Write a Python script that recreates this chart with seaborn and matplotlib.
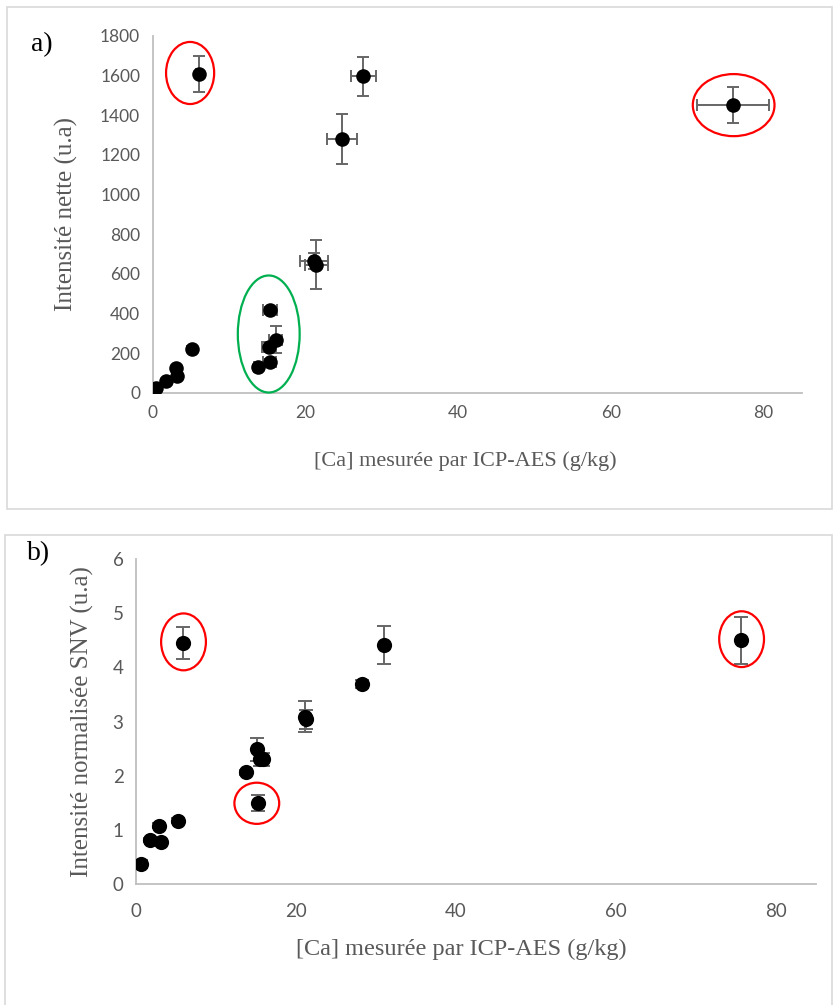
import matplotlib
matplotlib.use("Agg")
import matplotlib.pyplot as plt
from matplotlib.patches import Ellipse, Rectangle
import seaborn as sns
import pandas as pd

# ---------------- data ----------------
# panel a : net intensity vs [Ca]
ca_a = [0.4, 1.7, 3.0, 3.2, 5.2, 6.0, 13.8, 15.2, 15.3, 15.4, 16.1, 21.1, 21.4, 24.8, 27.6, 76.0]
int_a = [24, 61, 123, 82, 221, 1608, 128, 229, 153, 415, 266, 665, 645, 1280, 1595, 1451]
ca_err_a = [0.2, 0.2, 0.2, 0.2, 0.2, 0.3, 0.5, 0.9, 0.9, 0.9, 0.9, 1.8, 1.5, 2.0, 1.6, 4.7]
int_err_a = [5, 8, 10, 10, 15, 90, 10, 25, 15, 18, 68, 40, 124, 126, 99, 91]

# panel b : SNV-normalised intensity vs [Ca]
ca_b = [0.6, 1.75, 3.1, 2.9, 5.2, 5.9, 13.7, 15.2, 15.1, 15.5, 15.9, 21.1, 21.3, 28.2, 31.0, 75.6]
int_b = [0.37, 0.81, 0.78, 1.08, 1.17, 4.45, 2.06, 1.49, 2.49, 2.30, 2.30, 3.09, 3.04, 3.69, 4.41, 4.50]
int_err_b = [0.08, 0.04, 0.04, 0.04, 0.04, 0.29, 0.04, 0.15, 0.21, 0.12, 0.12, 0.29, 0.18, 0.07, 0.35, 0.43]

xticks = [0, 20, 40, 60, 80]
yticks_a = [0, 200, 400, 600, 800, 1000, 1200, 1400, 1600, 1800]
yticks_b = [0, 1, 2, 3, 4, 5, 6]

xlabel = "[Ca] mesurée par ICP-AES (g/kg)"
ylabel_a = "Intensité nette (u.a)"
ylabel_b = "Intensité normalisée SNV (u.a)"

# annotation ellipses (centre x, centre y, width, height, colour)
ell_a = [(4.9, 1612, 6.3, 313, "#FF0000"),
         (76.1, 1450, 10.7, 313, "#FF0000"),
         (15.2, 296, 8.1, 590, "#00B050")]
ell_b = [(5.94, 4.47, 5.6, 1.05, "#FF0000"),
         (75.7, 4.52, 5.6, 1.03, "#FF0000"),
         (15.1, 1.49, 5.6, 0.76, "#FF0000")]

df_a = pd.DataFrame({"x": ca_a, "y": int_a})
df_b = pd.DataFrame({"x": ca_b, "y": int_b})

# ---------------- style ----------------
sns.set_theme(style="white")
plt.rcParams["font.family"] = ["Lato", "DejaVu Sans"]
GRAY = "#595959"
AXC = "#BFBFBF"
SERIF = ["Liberation Serif", "DejaVu Serif"]

W, H = 833, 1005
fig = plt.figure(figsize=(W / 100, H / 100), dpi=100)

# panel frames
fig.patches.append(Rectangle((7 / W, 1 - 509 / H), (W - 8) / W, (509 - 7) / H,
                             transform=fig.transFigure, fill=False,
                             edgecolor="#D9D9D9", linewidth=1.2))
fig.patches.append(Rectangle((5 / W, -0.01), (W - 6) / W, 1 - 535 / H + 0.01,
                             transform=fig.transFigure, fill=False,
                             edgecolor="#D9D9D9", linewidth=1.2))


def style_axes(ax, yticks, xmax, fs_tick, xpad):
    ax.set_xlim(0, xmax)
    ax.set_xticks(xticks)
    ax.set_yticks(yticks)
    ax.set_ylim(yticks[0], yticks[-1])
    for s in ["top", "right"]:
        ax.spines[s].set_visible(False)
    for s in ["left", "bottom"]:
        ax.spines[s].set_color(AXC)
        ax.spines[s].set_linewidth(1.3)
    ax.tick_params(axis="y", direction="out", length=5, width=1.2, color=AXC,
                   labelcolor=GRAY, labelsize=fs_tick, pad=4)
    ax.tick_params(axis="x", direction="in", length=5, width=1.2, color=AXC,
                   labelcolor=GRAY, labelsize=fs_tick, pad=xpad)
    ax.set_facecolor("none")


# ---------------- panel a ----------------
axa = fig.add_axes([152.7 / W, 1 - 392.7 / H, 648.9 / W, 357 / H])
axa.errorbar(ca_a, int_a, xerr=ca_err_a, yerr=int_err_a, fmt="none",
             ecolor="#666666", elinewidth=1.4, capsize=4.5, capthick=1.4, zorder=2)
sns.scatterplot(data=df_a, x="x", y="y", ax=axa, color="black", s=110,
                edgecolor="black", linewidth=0, zorder=3, legend=False)
style_axes(axa, yticks_a, 85, 12.5, 9)
axa.set_xlabel(xlabel, family=SERIF, fontsize=16, color=GRAY, labelpad=22)
axa.xaxis.label.set_x(0.481)
axa.set_ylabel(ylabel_a, family=SERIF, fontsize=18, color=GRAY, labelpad=16)
for cx, cy, w, h, c in ell_a:
    axa.add_patch(Ellipse((cx, cy), w, h, fill=False, edgecolor=c, linewidth=1.6,
                          zorder=4, clip_on=False))
fig.text(31 / W, 1 - 45 / H, "a)", family=SERIF, fontsize=20, color="black",
         va="center", ha="left")

# ---------------- panel b ----------------
axb = fig.add_axes([136 / W, 1 - 884 / H, 680 / W, 325 / H])
axb.errorbar(ca_b, int_b, yerr=int_err_b, fmt="none",
             ecolor="#666666", elinewidth=1.4, capsize=5, capthick=1.4, zorder=2)
sns.scatterplot(data=df_b, x="x", y="y", ax=axb, color="black", s=120,
                edgecolor="black", linewidth=0, zorder=3, legend=False)
style_axes(axb, yticks_b, 85, 13.5, 14)
axb.set_xlabel(xlabel, family=SERIF, fontsize=17.5, color=GRAY, labelpad=13)
axb.xaxis.label.set_x(0.478)
axb.set_ylabel(ylabel_b, family=SERIF, fontsize=18, color=GRAY, labelpad=13)
for cx, cy, w, h, c in ell_b:
    axb.add_patch(Ellipse((cx, cy), w, h, fill=False, edgecolor=c, linewidth=1.6,
                          zorder=4, clip_on=False))
fig.text(27 / W, 1 - 554 / H, "b)", family=SERIF, fontsize=20, color="black",
         va="center", ha="left")

fig.savefig("out.png", dpi=100)
